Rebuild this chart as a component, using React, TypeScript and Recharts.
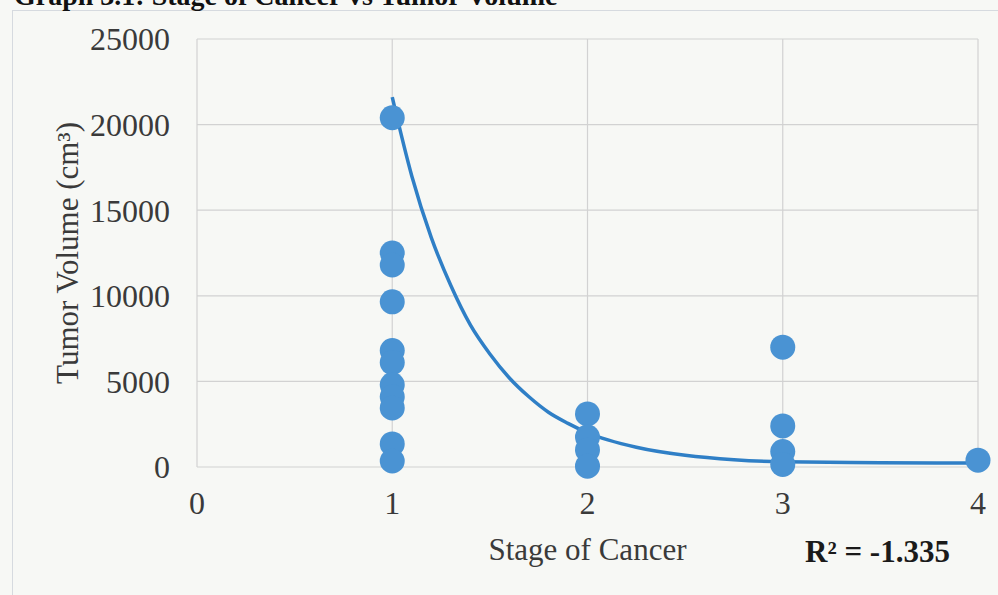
import React from 'react';
import { ComposedChart, Scatter, Line, XAxis, YAxis, CartesianGrid, Label } from 'recharts';

// Observed tumour volumes (cm³) per cancer stage
const stage1Volumes = [20400, 12500, 11800, 9650, 6800, 6100, 4800, 4100, 3450, 1350, 350];
const stage2Volumes = [3100, 1750, 1000, 50];
const stage3Volumes = [7000, 2400, 900, 150];
const stage4Volumes = [400];

// Trendline readings (stage -> volume)
const trendStages = [1, 1.1, 1.2, 1.3, 1.4, 1.5, 1.6, 1.7, 1.8, 1.9, 2, 2.25, 2.5, 2.75, 3, 3.5, 4];
const trendVolumes = [21600, 17000, 13400, 10600, 8300, 6600, 5200, 4100, 3200, 2550, 2000, 1150, 680, 420, 300, 250, 230];

const xTicks = [0, 1, 2, 3, 4];
const yTicks = [0, 5000, 10000, 15000, 20000, 25000];

const titleText = 'Graph 3.1: Stage of Cancer vs Tumor Volume';
const xTitle = 'Stage of Cancer';
const yTitle = 'Tumor Volume (cm³)';
const r2Text = 'R² = -1.335';

const points = [
  ...stage1Volumes.map((v) => ({ x: 1, y: v })),
  ...stage2Volumes.map((v) => ({ x: 2, y: v })),
  ...stage3Volumes.map((v) => ({ x: 3, y: v })),
  ...stage4Volumes.map((v) => ({ x: 4, y: v })),
];
const trend = trendStages.map((x, i) => ({ x, y: trendVolumes[i] }));

const FONT = '"Liberation Serif", "Times New Roman", serif';
const TEXT = '#3a3a3a';
const DOT = '#4a93d3';
const TREND = '#2f7fc6';

const Dot = (props: any) => {
  const { cx, cy } = props;
  if (cx == null || cy == null) return null;
  return <circle cx={cx} cy={cy} r={12.5} fill={DOT} />;
};

export default function App() {
  return (
    <div
      style={{
        position: 'absolute',
        left: 0,
        top: 0,
        width: 998,
        height: 595,
        background: '#f7f8f5',
        overflow: 'hidden',
        fontFamily: FONT,
      }}
    >
      <div
        style={{
          position: 'absolute',
          left: 12,
          top: 10,
          width: 1100,
          height: 700,
          borderLeft: '1.5px solid #d6dadf',
          borderTop: '1.5px solid #d6dadf',
        }}
      />
      <div style={{ position: 'absolute', left: 0, top: 0 }}>
        <ComposedChart width={998} height={595} margin={{ top: 39, right: 20, bottom: 18, left: 0 }}>
          <CartesianGrid stroke="#d2d2d2" strokeWidth={1.2} />
          <XAxis
            type="number"
            dataKey="x"
            domain={[0, 4]}
            ticks={xTicks}
            interval={0}
            axisLine={false}
            tickLine={false}
            tickSize={0}
            tickMargin={24}
            height={110}
            tick={{ fill: TEXT, fontSize: 32, fontFamily: FONT }}
          >
            <Label
              value={xTitle}
              position="insideBottom"
              offset={17}
              style={{ fill: TEXT, fontSize: 31, fontFamily: FONT }}
            />
          </XAxis>
          <YAxis
            type="number"
            dataKey="y"
            domain={[0, 25000]}
            ticks={yTicks}
            interval={0}
            axisLine={false}
            tickLine={false}
            tickSize={0}
            tickMargin={27}
            width={197}
            tick={{ fill: TEXT, fontSize: 32, fontFamily: FONT }}
          >
            <Label
              value={yTitle}
              angle={-90}
              position="insideLeft"
              offset={67}
              style={{ fill: TEXT, fontSize: 31, fontFamily: FONT, textAnchor: 'middle' }}
            />
          </YAxis>
          <Scatter data={points} dataKey="y" shape={<Dot />} isAnimationActive={false} />
          <Line
            data={trend}
            dataKey="y"
            type="monotone"
            stroke={TREND}
            strokeWidth={3.5}
            dot={false}
            activeDot={false}
            isAnimationActive={false}
          />
        </ComposedChart>
      </div>
      <svg
        width={998}
        height={595}
        style={{ position: 'absolute', left: 0, top: 0, pointerEvents: 'none' }}
      >
        <text x={14} y={5} fontFamily={FONT} fontSize={28} fontWeight="bold" fill="#111">
          {titleText}
        </text>
        <text x={805} y={562} fontFamily={FONT} fontSize={31} fontWeight="bold" fill="#1a1a1a">
          {r2Text}
        </text>
      </svg>
    </div>
  );
}
